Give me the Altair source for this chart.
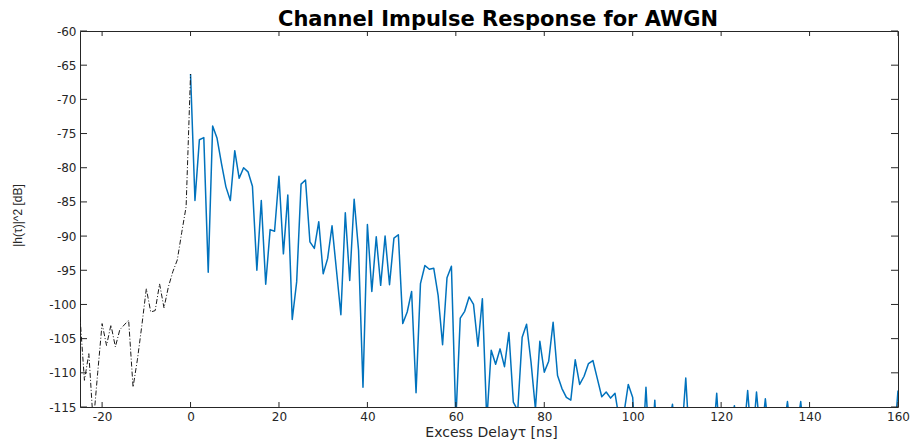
import altair as alt
import pandas as pd

title_text = "Channel Impulse Response for AWGN"
x_title = "Excess Delayτ [ns]"
y_title = "|h(τ)|^2 [dB]"

# dash-dot (pre-cursor) part, 1 ns spacing from -25 to 0
pre_delay = list(range(-25, 1))
pre_db = [-101.8, -111.1, -107.2, -117.5, -110.0, -102.8, -106.0, -103.0, -106.2,
          -103.7, -103.0, -102.3, -112.1, -108.0, -103.0, -97.7, -101.1, -100.9,
          -97.0, -100.5, -97.4, -95.2, -93.5, -89.5, -85.7, -66.3]

# solid blue part, 1 ns spacing from 0 to 160
main_delay = list(range(0, 161))
main_db = [
    -66.3, -84.8, -75.9, -75.6, -95.3, -73.9, -75.7, -79.4, -82.8, -84.8,    # 0-9
    -77.5, -81.55, -80.0, -80.6, -82.7, -95.0, -84.8, -97.05, -89.05, -89.3,  # 10-19
    -81.25, -92.6, -84.0, -102.2, -96.7, -82.4, -81.8, -90.85, -91.8, -87.9,  # 20-29
    -95.5, -93.3, -88.5, -95.0, -101.5, -86.6, -96.5, -84.6, -92.1, -112.1,   # 30-39
    -88.3, -98.1, -90.1, -97.2, -90.0, -97.1, -90.3, -89.8, -102.8, -101.1,   # 40-49
    -98.1, -112.9, -96.95, -94.3, -94.85, -94.7, -98.7, -105.9, -96.1, -94.4, # 50-59
    -117.0, -102.0, -101.0, -98.9, -100.0, -106.1, -99.15, -117.0, -106.7, -108.75,  # 60-69
    -106.5, -109.1, -104.1, -114.3, -115.5, -104.8, -102.9, -108.4, -115.3, -105.4,  # 70-79
    -109.9, -108.3, -102.6, -110.4, -112.3, -113.6, -114.0, -108.1, -111.7, -110.5,  # 80-89
    -108.65, -108.2, -110.85, -113.5, -112.8, -113.7, -113.0, -117.0, -116.0, -111.7,  # 90-99
    -113.6, -125.0, -124.0, -112.1, -124.0, -114.0, -126.0, -122.0, -118.0, -114.6,  # 100-109
    -122.0, -120.0, -110.75, -122.0, -127.0, -124.0, -128.0, -125.0, -121.0, -113.0,  # 110-119
    -123.0, -128.0, -119.0, -114.8, -121.0, -120.0, -112.6, -121.0, -112.8, -120.0,  # 120-129
    -113.8, -120.0, -126.0, -122.0, -119.0, -114.2, -120.0, -119.0, -114.2, -121.0,  # 130-139
    -124.0, -127.0, -122.0, -129.0, -125.0, -123.0, -128.0, -126.0, -121.0, -125.0,  # 140-149
    -130.0, -124.0, -127.0, -122.0, -126.0, -128.0, -123.0, -125.0, -127.0, -121.0,  # 150-159
    -112.6,                                                                     # 160
]

x_ticks = [-20, 0, 20, 40, 60, 80, 100, 120, 140, 160]
y_ticks = [-115, -110, -105, -100, -95, -90, -85, -80, -75, -70, -65, -60]

W, H = 818, 376
AX = "#262626"

pre_df = pd.DataFrame({"delay": pre_delay, "db": pre_db})
main_df = pd.DataFrame({"delay": main_delay, "db": main_db})
xt_df = pd.DataFrame({"delay": x_ticks})
yt_df = pd.DataFrame({"db": y_ticks})

xs = alt.Scale(domain=[-25, 160], nice=False, zero=False)
ys = alt.Scale(domain=[-115, -60], nice=False, zero=False)

x_axis = alt.Axis(
    values=x_ticks, labelPadding=4, labelExpr="datum.value + ''",
    title=x_title, titleFont="DejaVu Sans", titleFontSize=14,
    titleX=411, titleY=29, titleAlign="center", titleBaseline="alphabetic",
)
y_axis = alt.Axis(
    values=y_ticks, labelPadding=4, labelExpr="datum.value + ''",
    title=y_title, titleFont="Liberation Sans", titleFontSize=12,
    titleX=-63, titleY=184, titleAngle=270, titleAlign="center",
    titleBaseline="middle",
)

X = alt.X("delay:Q", scale=xs, axis=x_axis)
Y = alt.Y("db:Q", scale=ys, axis=y_axis)

main_line = alt.Chart(main_df).mark_line(
    color="#0072BD", strokeWidth=1.5, clip=True, strokeJoin="round"
).encode(x=X, y=Y)

pre_line = alt.Chart(pre_df).mark_line(
    color="#1a1a1a", strokeWidth=1, strokeDash=[5, 2, 1, 2], clip=True
).encode(x=X, y=Y)

xt_bottom = alt.Chart(xt_df).mark_rule(color=AX, strokeWidth=1).encode(
    x=X, y=alt.value(H), y2=alt.value(H - 5)
)
xt_top = alt.Chart(xt_df).mark_rule(color=AX, strokeWidth=1).encode(
    x=X, y=alt.value(0), y2=alt.value(5)
)
yt_left = alt.Chart(yt_df).mark_rule(color=AX, strokeWidth=1).encode(
    y=Y, x=alt.value(0), x2=alt.value(7)
)
yt_right = alt.Chart(yt_df).mark_rule(color=AX, strokeWidth=1).encode(
    y=Y, x=alt.value(W), x2=alt.value(W - 7)
)

chart = alt.layer(
    main_line, pre_line, xt_bottom, xt_top, yt_left, yt_right
).properties(
    width=W, height=H,
    title=alt.Title(title_text, font="DejaVu Sans", fontSize=21, fontWeight="bold",
                    color="black", offset=5, anchor="middle", dx=9, dy=10),
    padding={"left": 72, "top": 23, "right": 12, "bottom": 33},
    autosize=alt.AutoSizeParams(type="none"),
).configure(
    background="white"
).configure_view(
    stroke=AX, strokeWidth=1
).configure_axis(
    ticks=False, tickSize=0, domain=False, grid=False, labelFlush=False,
    labelFont="DejaVu Sans", labelFontSize=12, labelColor=AX,
    titleFontWeight="normal", titleColor=AX,
)

chart.save("out.html", embed_options={"renderer": "svg", "actions": False})
